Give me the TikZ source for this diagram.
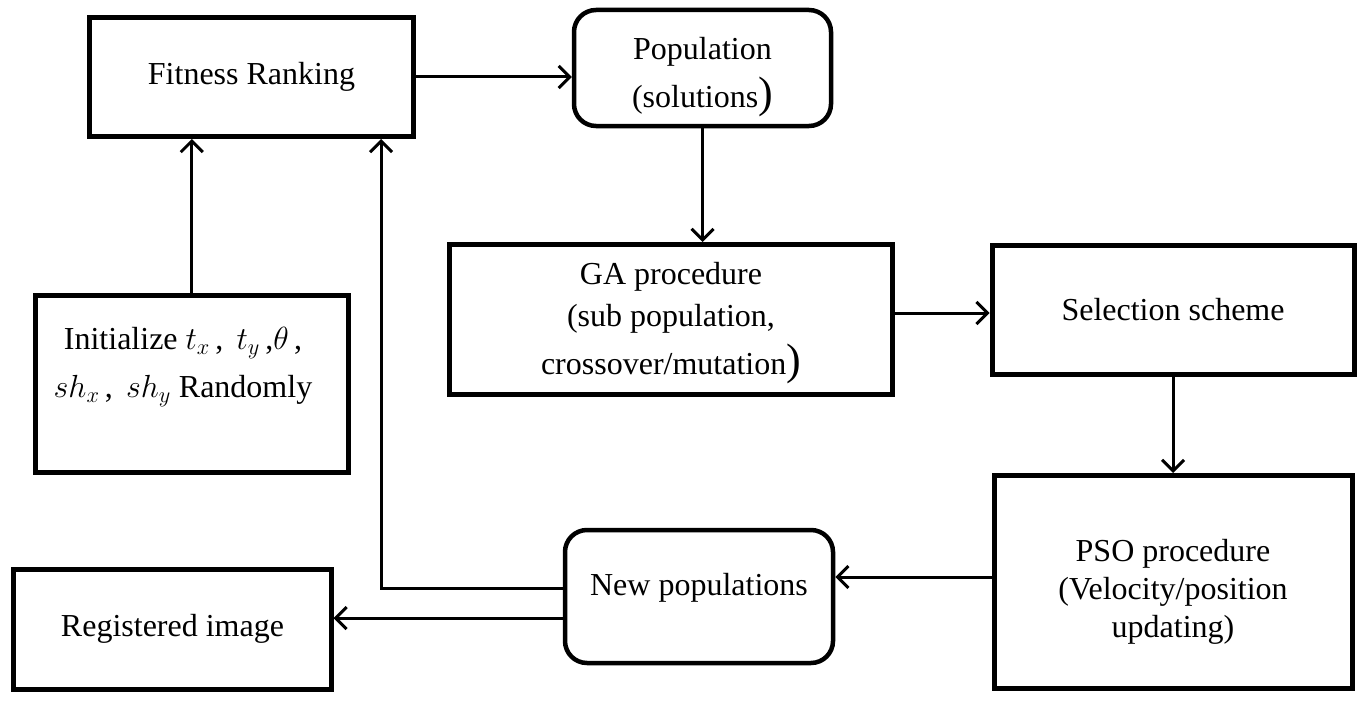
\RequirePackage{fix-cm}
\documentclass[tikz,border=0pt]{standalone}
\usepackage{fontspec}
\setmainfont{Liberation Serif}
\usetikzlibrary{arrows.meta}
\newcommand{\bigclose}{{\fontsize{44bp}{44bp}\selectfont )}}
\newcommand{\topstrut}[1]{\rule{0pt}{#1}}
\begin{document}
\begin{tikzpicture}[x=1bp,y=-1bp,
  box/.style={draw,line width=5bp,inner sep=0pt,align=center,
    font=\fontsize{32bp}{42bp}\selectfont},
  rbox/.style={box,rounded corners=22bp,line width=4.5bp},
  lbl/.style={inner sep=0pt,align=center,font=\fontsize{32bp}{48bp}\selectfont},
  link/.style={line width=3bp,-{Straight Barb[length=11bp,width=22bp,line width=3bp]}}]
\useasboundingbox (0,0) rectangle (1365,702);

% process boxes
\node[box,minimum width=323bp,minimum height=119bp] (fit) at (251.5,77) {Fitness Ranking};
\node[rbox,minimum width=257bp,minimum height=116bp] (pop) at (702.5,68)
  {\topstrut{40bp}Population\\[6bp](solutions\bigclose};
\node[box,minimum width=443bp,minimum height=150bp] (ga) at (671,319.5)
  {\topstrut{30bp}GA procedure\\(sub population,\\[6bp]crossover/mutation\bigclose};
\node[box,minimum width=362bp,minimum height=129bp] (sel) at (1173,309.5) {Selection scheme};
\node[box,minimum width=358bp,minimum height=213bp,
  font=\fontsize{32bp}{38bp}\selectfont] (pso) at (1173,582)
  {\topstrut{42bp}PSO procedure\\(Velocity/position\\updating)};
\node[rbox,minimum width=268bp,minimum height=133bp,
  text height=22bp,text depth=24bp] (new) at (699,596.5) {New populations};
\node[box,minimum width=317bp,minimum height=120bp] (reg) at (172.5,629) {Registered image};
\node[box,minimum width=312.5bp,minimum height=177.5bp] (init) at (191.75,384) {};
\node[lbl] (initlbl) at (183,367)
  {Initialize $t_x$\,,\, $t_y$\,,$\theta$\,,\\$sh_x$\,,\, $sh_y$ Randomly};

% connectors
\draw[link] (init.north) -- (init.north |- fit.south);
\draw[link] (fit.east) -- (fit.east -| pop.west);
\draw[link] (pop.south) -- (pop.south |- ga.north);
\draw[link] ([yshift=6.5bp]ga.east) -- ([yshift=6.5bp]ga.east -| sel.west);
\draw[link] (sel.south) -- (sel.south |- pso.north);
\draw[link] ([yshift=5bp]pso.west) -- ([yshift=5bp]pso.west -| new.east);
\draw[link] ([yshift=8.5bp]new.west) -| ([xshift=129.5bp]fit.south);
\draw[link] ([yshift=-21.5bp]new.west) -- ([yshift=-21.5bp]new.west -| reg.east);
\end{tikzpicture}
\end{document}
